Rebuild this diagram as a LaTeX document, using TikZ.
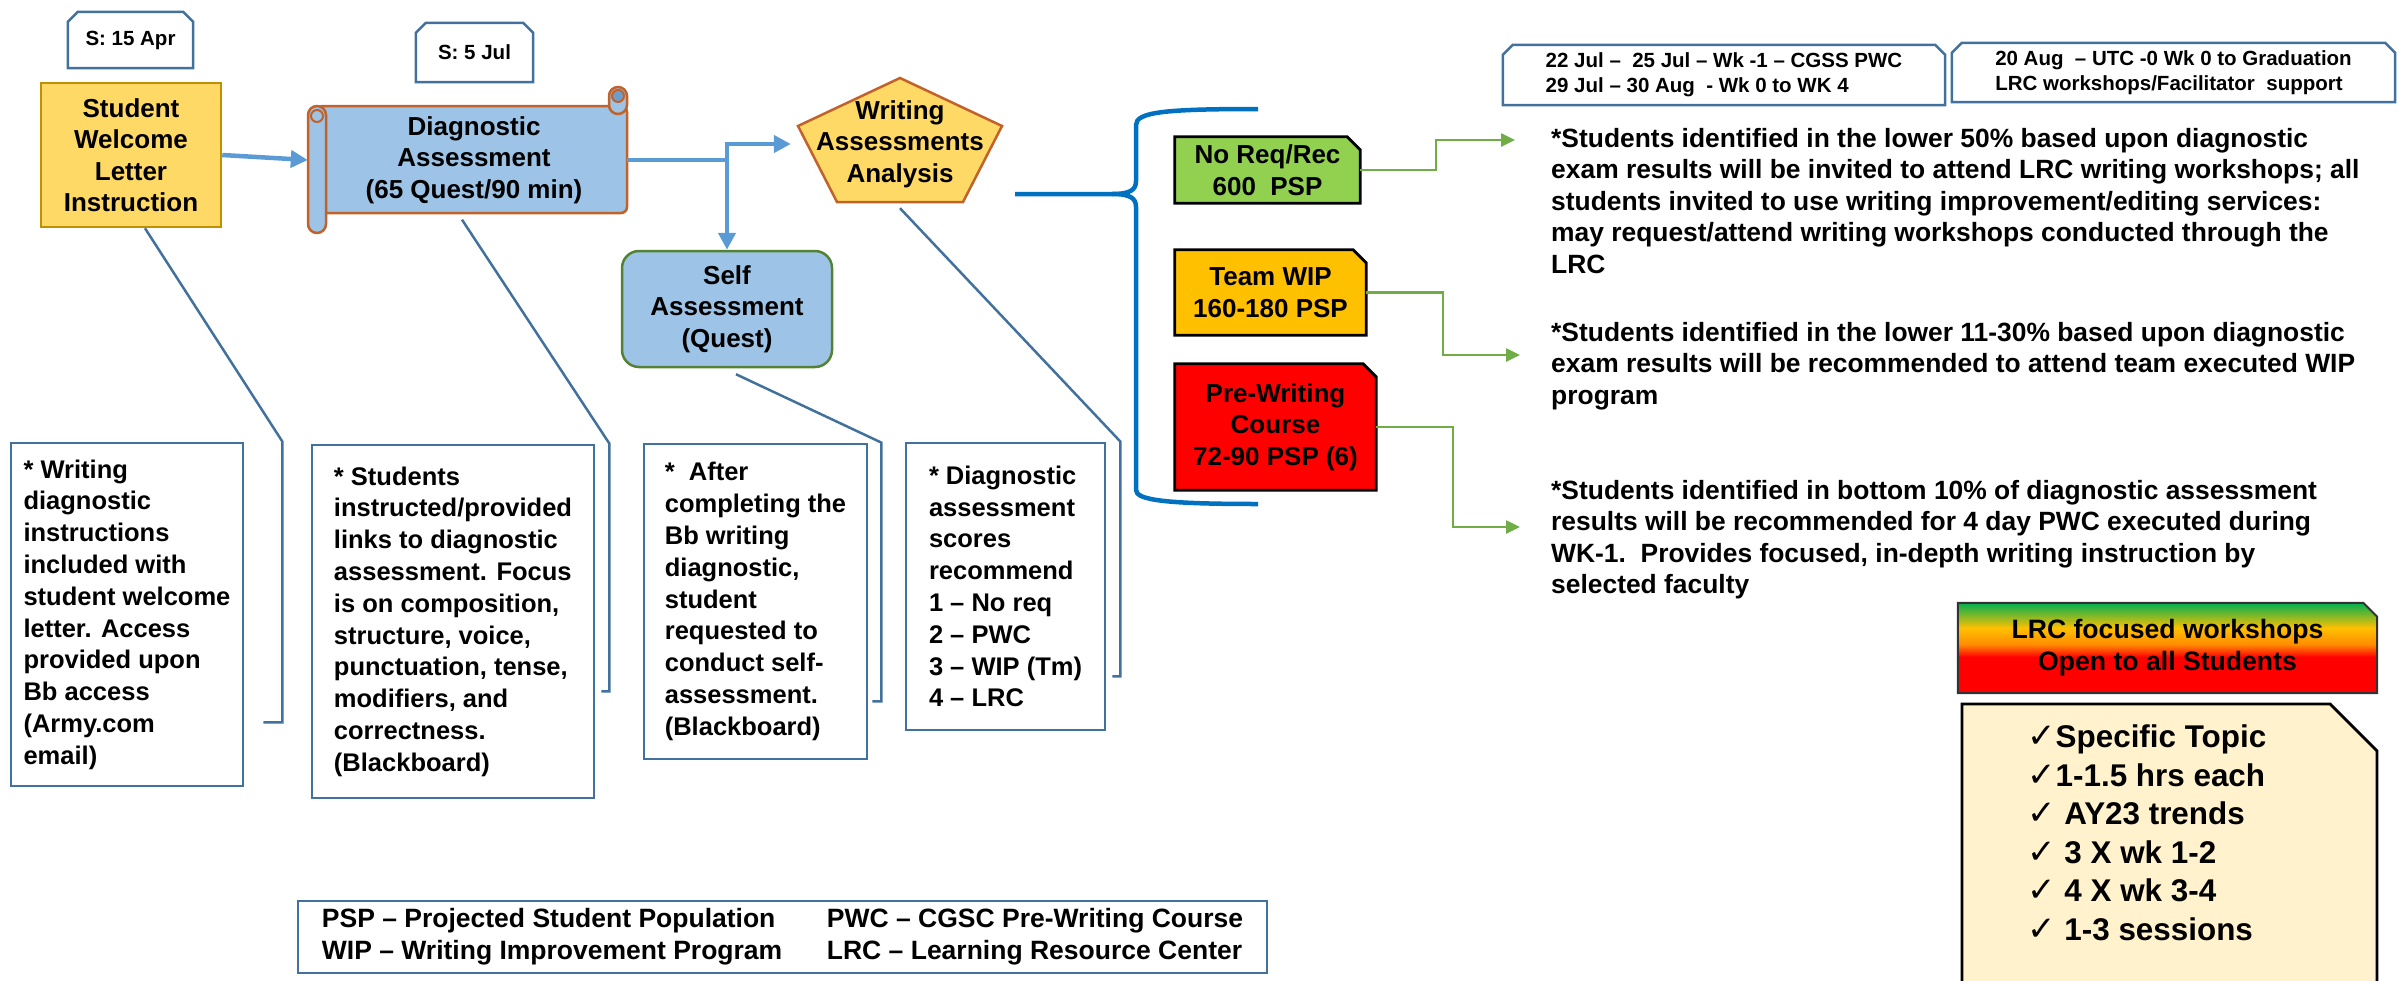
\documentclass[tikz,border=0pt]{standalone}
\usepackage{fontspec}
\setmainfont{Liberation Sans}
\newfontfamily\tickfont{DejaVu Sans}
\usetikzlibrary{arrows.meta,backgrounds}

\definecolor{flowblue}{HTML}{5B9BD5}
\definecolor{scrollblue}{HTML}{9DC3E6}
\definecolor{scrolldark}{HTML}{6F9CC8}
\definecolor{scrollrim}{HTML}{C0622A}
\definecolor{gold}{HTML}{FFD966}
\definecolor{goldrim}{HTML}{BF9000}
\definecolor{selfrim}{HTML}{548235}
\definecolor{noteblue}{HTML}{41719C}
\definecolor{bracecol}{HTML}{0070C0}
\definecolor{pathgreen}{HTML}{70AD47}
\definecolor{reqgreen}{HTML}{92D050}
\definecolor{wipgold}{HTML}{FFC000}
\definecolor{pwcred}{HTML}{FF0000}
\definecolor{topiccream}{HTML}{FFF2CC}
\definecolor{lrcgreen}{HTML}{00B050}
\definecolor{lrcorange}{HTML}{FF8C00}

\pgfdeclareverticalshading{lrcfade}{100bp}{color(0bp)=(pwcred); color(45bp)=(pwcred);
  color(52bp)=(lrcorange); color(61bp)=(wipgold); color(75bp)=(lrcgreen); color(100bp)=(lrcgreen)}

\newcommand{\pxsize}[2]{\fontsize{#1}{#2}\selectfont\bfseries}
\newcommand{\topictick}{{\tickfont\mdseries\fontsize{34}{34}\selectfont ✓}}

\begin{document}
\begin{tikzpicture}[x=1pt,y=-1pt,
    base/.style={inner sep=0,align=center,font=\pxsize{26}{31.5}},
    tabfont/.style={base,font=\pxsize{20.5}{25}},
    note/.style={draw=noteblue,line width=2.8pt,inner sep=0,align=left,font=\pxsize{25.5}{31.8}},
    flow/.style={draw=flowblue,line width=4.5pt,-{Triangle[length=17pt,width=17pt]}},
    route/.style={draw=pathgreen,line width=2.5pt,-{Triangle[length=14pt,width=13pt]}},
    lead/.style={draw=noteblue,line width=2.5pt},
    desc/.style={inner sep=0,align=left,anchor=north west,font=\pxsize{26.4}{31.5}}]
  \useasboundingbox (0,0) rectangle (2408,980);

  % timeline tabs
  \node[tabfont,minimum width=125,minimum height=56] (tabA) at (130.5,40) {S: 15 Apr};
  \node[tabfont,minimum width=117,minimum height=59] (tabB) at (474.5,52.5) {S: 5 Jul};
  \node[tabfont,align=left,minimum width=442,minimum height=60] (dateA) at (1724,75)
    {22 Jul –\ \ 25 Jul – Wk -1 – CGSS PWC\\29 Jul – 30 Aug\ \ - Wk 0 to WK 4};
  \node[tabfont,align=left,minimum width=443,minimum height=59] (dateB) at (2173.5,72.5)
    {20 Aug\ \ – UTC -0 Wk 0 to Graduation\\LRC workshops/Facilitator\ \ support};

  % process steps
  \node[base,draw=goldrim,fill=gold,line width=2.5pt,minimum width=180,minimum height=144]
    (student) at (131,155) {Student\\Welcome\\Letter\\Instruction};
  \node[base,minimum width=306,minimum height=107] (diag) at (474,160)
    {Diagnostic\\Assessment\\(65 Quest/90 min)};
  \node[base,minimum width=218,minimum height=116] (penta) at (900,144)
    {Writing\\Assessments\\Analysis};
  \node[base,draw=selfrim,fill=scrollblue,line width=2.5pt,rounded corners=17pt,
    minimum width=210,minimum height=116] (self) at (727,309) {Self\\Assessment\\(Quest)};

  % outcomes
  \node[base,minimum width=185,minimum height=66] (noreq) at (1267.5,170) {No Req/Rec\\600\ \ PSP};
  \node[base,minimum width=191,minimum height=85] (teamwip) at (1270.5,292.5) {Team WIP\\160-180 PSP};
  \node[base,minimum width=201,minimum height=126] (prewrite) at (1275.5,427)
    {Pre-Writing\\Course\\72-90 PSP (6)};

  \node[desc] (descA) at (1551,128)
    {*Students identified in the lower 50\% based upon diagnostic\\
     exam results will be invited to attend LRC writing workshops; all\\
     students invited to use writing improvement/editing services:\\
     may request/attend writing workshops conducted through the\\LRC};
  \node[desc] (descB) at (1551,322)
    {*Students identified in the lower 11-30\% based upon diagnostic\\
     exam results will be recommended to attend team executed WIP\\program};
  \node[desc] (descC) at (1551,480)
    {*Students identified in bottom 10\% of diagnostic assessment\\
     results will be recommended for 4 day PWC executed during\\
     WK-1.\ \ Provides focused, in-depth writing instruction by\\selected faculty};
  \coordinate (tipA) at (1515,140);
  \coordinate (tipB) at (1520,355);
  \coordinate (tipC) at (1520,527);

  % LRC workshops
  \node[base,font=\pxsize{26.6}{32},minimum width=419,minimum height=90] (lrc) at (2167.5,648)
    {LRC focused workshops\\Open to all Students};
  \node[inner sep=0,align=left,anchor=north west,font=\pxsize{31.4}{38.5}] (topics) at (2027,725)
    {\topictick Specific Topic\\\topictick 1-1.5 hrs each\\\topictick\ AY23 trends\\
     \topictick\ 3 X wk 1-2\\\topictick\ 4 X wk 3-4\\\topictick\ 1-3 sessions};

  % callouts
  \node[note,minimum width=232,minimum height=343] (noteA) at (127,614.5)
    {* Writing\\diagnostic\\instructions\\included with\\student welcome\\letter. Access\\
     provided upon\\Bb access\\(Army.com\\email)};
  \node[note,minimum width=282,minimum height=353] (noteB) at (453,621.5)
    {* Students\\instructed/provided\\links to diagnostic\\assessment. Focus\\is on composition,\\
     structure, voice,\\punctuation, tense,\\modifiers, and\\correctness.\\(Blackboard)};
  \node[note,minimum width=223,minimum height=315] (noteC) at (755.5,601.5)
    {*\ \ After\\completing the\\Bb writing\\diagnostic,\\student\\requested to\\conduct self-\\
     assessment.\\(Blackboard)};
  \node[note,minimum width=199,minimum height=287] (noteD) at (1005.5,586.5)
    {* Diagnostic\\assessment\\scores\\recommend\\1 – No req\\2 – PWC\\3 – WIP (Tm)\\4 – LRC};

  \node[draw=noteblue,line width=2.5pt,inner sep=0,minimum width=969,minimum height=72,
    font=\pxsize{26.5}{32}] (legend) at (782.5,937)
    {\begin{tabular}{@{}p{505pt}@{}l@{}}
      PSP – Projected Student Population & PWC – CGSC Pre-Writing Course\\
      WIP – Writing Improvement Program & LRC – Learning Resource Center
    \end{tabular}};

  \begin{scope}[on background layer]
    \foreach \n in {tabA,tabB,dateA,dateB}
      \filldraw[fill=white,draw=noteblue,line width=2.5pt] (\n.south west)
        -- ([yshift=-10pt]\n.north west) -- ([xshift=10pt]\n.north west)
        -- ([xshift=-10pt]\n.north east) -- ([yshift=-10pt]\n.north east)
        -- (\n.south east) -- cycle;
    \foreach \n/\c in {noreq/reqgreen,teamwip/wipgold,prewrite/pwcred}
      \filldraw[fill=\c,line width=2.8pt] (\n.south west) -- (\n.north west)
        -- ([xshift=-13pt]\n.north east) -- ([yshift=-13pt]\n.north east)
        -- (\n.south east) -- cycle;
    \shadedraw[shading=lrcfade,draw=black!80,line width=2pt] (lrc.south west) -- (lrc.north west)
      -- ([xshift=-14pt]lrc.north east) -- ([yshift=-14pt]lrc.north east) -- (lrc.south east) -- cycle;
    % scroll
    \filldraw[fill=scrollblue,draw=scrollrim,line width=2.5pt,rounded corners=6pt]
      (317,106) -- (627,106) -- (627,213) -- (317,213) -- cycle;
    \filldraw[fill=scrollblue,draw=scrollrim,line width=2.5pt,rounded corners=9pt]
      (609,87) rectangle (627,114);
    \filldraw[fill=scrolldark,draw=scrollrim,line width=2pt] (618,96) circle (6);
    \filldraw[fill=scrollblue,draw=scrollrim,line width=2.5pt,rounded corners=9pt]
      (308,106) rectangle (326,233);
    \filldraw[fill=scrollblue,draw=scrollrim,line width=2pt] (317,116) circle (6);
    % pentagon
    \filldraw[fill=gold,draw=scrollrim,line width=2.5pt]
      (900,78) -- (1002,126) -- (963,202) -- (837,202) -- (798,126) -- cycle;
    % topics card
    \fill[topiccream] (1962,990) -- (1962,704) -- (2330,704) -- (2377,751) -- (2377,990) -- cycle;
    \draw[line width=2.8pt] (1962,990) -- (1962,704) -- (2330,704) -- (2377,751) -- (2377,990);
  \end{scope}

  % flow
  \draw[flow] (student.east) -- ([xshift=-13pt]diag.west);
  \draw[flow] (diag.east) -| (self.north);
  \draw[flow] (self.north |- diag.east) |- (penta.west);

  % brace
  \draw[bracecol,line width=4.5pt]
    (1258,109) .. controls (1165,109) and (1136,112) .. (1136,125) -- (1136,181)
    .. controls (1136,190) and (1130,194) .. (1112,194) -- (1015,194);
  \draw[bracecol,line width=4.5pt]
    (1112,194) .. controls (1130,194) and (1136,198) .. (1136,207) -- (1136,490)
    .. controls (1136,500) and (1165,504) .. (1258,504);

  \draw[route] (noreq.east) -- ++(76,0) |- (tipA);
  \draw[route] (teamwip.east) -- ++(77,0) |- (tipB);
  \draw[route] (prewrite.east) -- ++(77,0) |- (tipC);

  % leaders to callouts
  \draw[lead] ([xshift=14pt]student.south) -- ([xshift=38pt]noteA.north east)
    -- ([xshift=38pt,yshift=65pt]noteA.south east) -- ([xshift=19pt,yshift=65pt]noteA.south east);
  \draw[lead] ([xshift=-12pt,yshift=-6pt]diag.south) -- ([xshift=14pt]noteB.north east)
    -- ([xshift=14pt,yshift=108pt]noteB.south east) -- ([xshift=6pt,yshift=108pt]noteB.south east);
  \draw[lead] ([xshift=9pt,yshift=-6pt]self.south) -- ([xshift=13pt]noteC.north east)
    -- ([xshift=13pt,yshift=59pt]noteC.south east) -- ([xshift=4pt,yshift=59pt]noteC.south east);
  \draw[lead] ([yshift=-6pt]penta.south) -- ([xshift=14pt]noteD.north east)
    -- ([xshift=14pt,yshift=55pt]noteD.south east) -- ([xshift=6pt,yshift=55pt]noteD.south east);
\end{tikzpicture}
\end{document}
